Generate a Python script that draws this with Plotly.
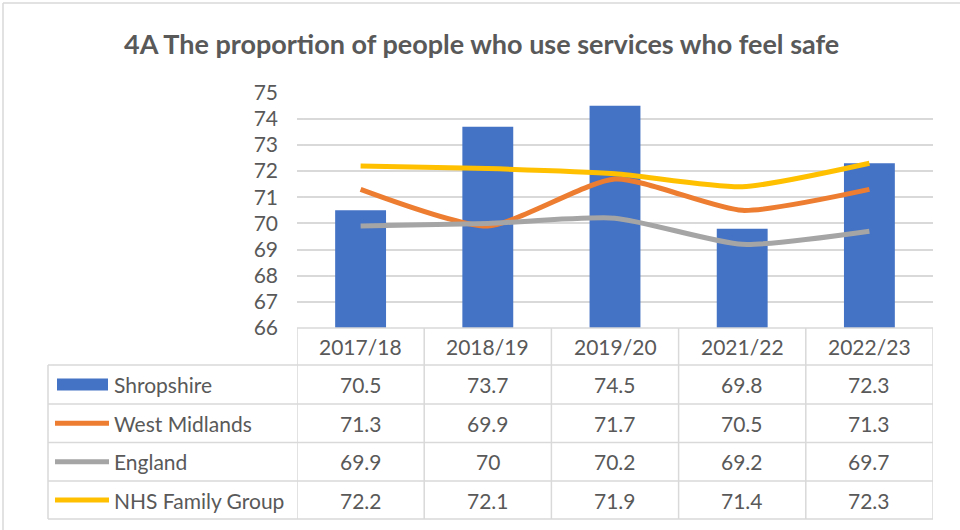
import plotly.graph_objects as go

title = "4A The proportion of people who use services who feel safe"
categories = ["2017/18", "2018/19", "2019/20", "2021/22", "2022/23"]
series_names = ["Shropshire", "West Midlands", "England", "NHS Family Group"]
shropshire = [70.5, 73.7, 74.5, 69.8, 72.3]
west_midlands = [71.3, 69.9, 71.7, 70.5, 71.3]
england = [69.9, 70, 70.2, 69.2, 69.7]
nhs_family = [72.2, 72.1, 71.9, 71.4, 72.3]
y_ticks = list(range(66, 76))

colors = ["#4472C4", "#ED7D31", "#A5A5A5", "#FFC000"]
TXT = "#595959"
GRID = "#D9D9D9"
FONT = "Lato"
FS = 21
W, H = 960, 530

def px_x(p):
    return p / W

def px_y(p):
    return 1 - p / H

plot_left, plot_right = 297, 933
plot_top, plot_bottom = 92.7, 328

fig = go.Figure()
fig.add_trace(go.Bar(x=categories, y=shropshire, marker_color=colors[0],
                     marker_line_width=0, name=series_names[0], showlegend=False))
for vals, col, nm in [(west_midlands, colors[1], series_names[1]),
                      (england, colors[2], series_names[2]),
                      (nhs_family, colors[3], series_names[3])]:
    fig.add_trace(go.Scatter(x=categories, y=vals, mode="lines", name=nm,
                             line=dict(color=col, width=5, shape="spline", smoothing=0.6),
                             showlegend=False))

shapes = []
annotations = []

# outer frame (left & top)
shapes.append(dict(type="line", xref="paper", yref="paper", x0=px_x(3), x1=px_x(960),
                   y0=px_y(3), y1=px_y(3), line=dict(color=GRID, width=1.5)))
shapes.append(dict(type="line", xref="paper", yref="paper", x0=px_x(3), x1=px_x(3),
                   y0=px_y(3), y1=px_y(530), line=dict(color=GRID, width=1.5)))

# table geometry
row_edges = [328, 365, 404, 442.5, 481, 519]
left_edge = 48
n = len(categories)

shapes.append(dict(type="line", xref="paper", yref="paper", x0=px_x(plot_left), x1=px_x(plot_right),
                   y0=px_y(row_edges[0]), y1=px_y(row_edges[0]), line=dict(color=GRID, width=1.5)))
for ry in row_edges[1:]:
    shapes.append(dict(type="line", xref="paper", yref="paper", x0=px_x(left_edge), x1=px_x(plot_right),
                       y0=px_y(ry), y1=px_y(ry), line=dict(color=GRID, width=1.5)))
shapes.append(dict(type="line", xref="paper", yref="paper", x0=px_x(left_edge), x1=px_x(left_edge),
                   y0=px_y(row_edges[1]), y1=px_y(row_edges[-1]), line=dict(color=GRID, width=1.5)))
for i in range(n + 1):
    shapes.append(dict(type="line", xref="x", yref="paper", x0=i - 0.5, x1=i - 0.5,
                       y0=px_y(row_edges[0]), y1=px_y(row_edges[-1]), line=dict(color=GRID, width=1.5)))

for c in categories:
    annotations.append(dict(x=c, xref="x", y=px_y((row_edges[0] + row_edges[1]) / 2), yref="paper",
                            text=c, showarrow=False, font=dict(family=FONT, size=FS, color=TXT),
                            xanchor="center", yanchor="middle"))

all_series = [shropshire, west_midlands, england, nhs_family]
for r, (nm, vals) in enumerate(zip(series_names, all_series)):
    yc = (row_edges[r + 1] + row_edges[r + 2]) / 2
    for c, v in zip(categories, vals):
        annotations.append(dict(x=c, xref="x", y=px_y(yc), yref="paper", text=f"{v:g}",
                                showarrow=False, font=dict(family=FONT, size=FS, color=TXT),
                                xanchor="center", yanchor="middle"))
    annotations.append(dict(x=px_x(112), xref="paper", y=px_y(yc), yref="paper", text=nm,
                            showarrow=False, font=dict(family=FONT, size=FS, color=TXT),
                            xanchor="left", yanchor="middle"))
    if r == 0:
        shapes.append(dict(type="rect", xref="paper", yref="paper", x0=px_x(57), x1=px_x(108),
                           y0=px_y(yc - 6), y1=px_y(yc + 6), fillcolor=colors[0], line=dict(width=0)))
    else:
        shapes.append(dict(type="line", xref="paper", yref="paper", x0=px_x(55), x1=px_x(109),
                           y0=px_y(yc), y1=px_y(yc), line=dict(color=colors[r], width=5)))

annotations.append(dict(x=px_x(481), xref="paper", y=px_y(44), yref="paper", text=f"<b>{title}</b>",
                        showarrow=False, font=dict(family=FONT, size=27, color=TXT),
                        xanchor="center", yanchor="middle"))

fig.update_layout(
    width=W, height=H,
    margin=dict(l=0, r=0, t=0, b=0),
    paper_bgcolor="white", plot_bgcolor="white",
    bargap=0.6,
    shapes=shapes, annotations=annotations,
    xaxis=dict(domain=[px_x(plot_left), px_x(plot_right)], range=[-0.5, n - 0.5],
               showticklabels=False, showgrid=False, zeroline=False, showline=False, fixedrange=True),
    yaxis=dict(domain=[px_y(plot_bottom), px_y(plot_top)], range=[66, 75], tickvals=y_ticks,
               showgrid=True, gridcolor=GRID, gridwidth=1.5, zeroline=False, showline=False,
               tickfont=dict(family=FONT, size=FS, color=TXT), ticklabelstandoff=18,
               automargin=False),
    font=dict(family=FONT, color=TXT),
)

fig.write_html("out.html", config={"displayModeBar": False},
               post_script="document.body.style.margin='0';")
